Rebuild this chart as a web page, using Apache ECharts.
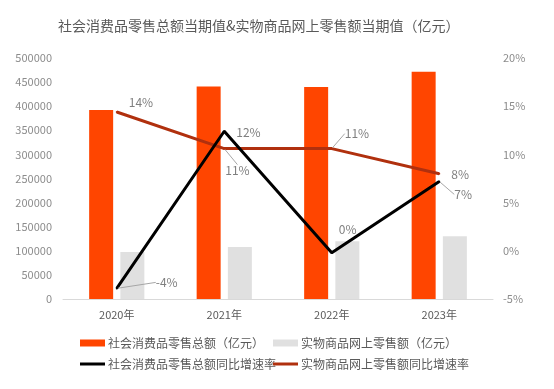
<!DOCTYPE html>
<html>
<head>
<meta charset="utf-8">
<script src="https://cdn.jsdelivr.net/npm/echarts@6/dist/echarts.min.js"></script>
<style>html,body{margin:0;padding:0;background:#fff}#c{width:554px;height:389px}</style>
</head>
<body>
<div id="c"></div>
<script>
const categories = ['2020年', '2021年', '2022年', '2023年'];
const retailTotal = [391981, 440823, 439733, 471495];
const onlineTotal = [97590, 108042, 119642, 130174];
const retailGrowth = [-3.9, 12.4, -0.2, 7.2];
const onlineGrowth = [14.4, 10.6, 10.6, 8.0];
const names = ['社会消费品零售总额（亿元）', '实物商品网上零售额（亿元）', '社会消费品零售总额同比增速率', '实物商品网上零售额同比增速率'];

// label nudges (dx, dy) and whether a leader line is drawn
const retailLabelShift = [[33, -6, true], [6, 1, false], [1, -23, false], [9, 13, true]];
const onlineLabelShift = [[6, -10, false], [-5, 22, true], [7, -15, true], [6, 1, false]];

const font = '"Noto Sans CJK SC", "Noto Sans", sans-serif';
const chart = echarts.init(document.getElementById('c'));

function lineData(vals, shifts) {
  return vals.map((v, i) => ({ value: v, labelLine: { show: shifts[i][2] } }));
}
function legendAt(name, left, top, h) {
  return {
    data: [{ name: name, icon: 'rect' }], left: left, top: top, padding: 0,
    itemWidth: 25, itemHeight: h, itemGap: 0,
    textStyle: { color: '#595959', fontSize: 12, fontFamily: font, padding: [0, 0, 0, -2] }
  };
}

chart.setOption({
  animation: false,
  title: {
    text: '社会消费品零售总额当期值&实物商品网上零售额当期值（亿元）',
    left: 53, top: 14,
    textStyle: { color: '#595959', fontSize: 14, fontWeight: 'normal', fontFamily: font }
  },
  legend: [
    legendAt(names[0], 80, 337, 7),
    legendAt(names[1], 273, 337, 7),
    legendAt(names[2], 80, 358, 3),
    legendAt(names[3], 273, 358, 3)
  ],
  grid: { left: 63, right: 61, top: 58, bottom: 90 },
  xAxis: {
    type: 'category', data: categories,
    axisLine: { lineStyle: { color: '#d9d9d9' } },
    axisTick: { show: false },
    axisLabel: { color: '#595959', fontSize: 11, fontFamily: font, margin: 10 }
  },
  yAxis: [
    {
      type: 'value', min: 0, max: 500000, interval: 50000,
      splitLine: { show: false }, axisLine: { show: false }, axisTick: { show: false },
      axisLabel: { color: '#8c8c8c', fontSize: 11, fontFamily: font, margin: 11, formatter: v => String(v) }
    },
    {
      type: 'value', min: -5, max: 20, interval: 5,
      splitLine: { show: false }, axisLine: { show: false }, axisTick: { show: false },
      axisLabel: { color: '#8c8c8c', fontSize: 11, fontFamily: font, margin: 10, formatter: '{value}%' }
    }
  ],
  series: [
    {
      name: names[0], type: 'bar', data: retailTotal, barWidth: 24, barGap: '30%',
      itemStyle: { color: '#ff4500' }
    },
    {
      name: names[1], type: 'bar', data: onlineTotal, barWidth: 24,
      itemStyle: { color: '#e0e0e0' }
    },
    {
      name: names[2], type: 'line', yAxisIndex: 1, data: lineData(retailGrowth, retailLabelShift),
      symbol: 'circle', symbolSize: 2, z: 5,
      lineStyle: { color: '#000000', width: 3 }, itemStyle: { color: '#000000' },
      label: { show: true, position: 'right', color: '#7f7f7f', fontSize: 12, fontFamily: font,
        formatter: p => Math.round(p.value) + '%' },
      labelLine: { show: true, lineStyle: { color: '#a6a6a6', width: 1 } },
      labelLayout: p => ({ dx: retailLabelShift[p.dataIndex][0], dy: retailLabelShift[p.dataIndex][1] })
    },
    {
      name: names[3], type: 'line', yAxisIndex: 1, data: lineData(onlineGrowth, onlineLabelShift),
      symbol: 'circle', symbolSize: 2, z: 4,
      lineStyle: { color: '#b0300e', width: 3 }, itemStyle: { color: '#b0300e' },
      label: { show: true, position: 'right', color: '#7f7f7f', fontSize: 12, fontFamily: font,
        formatter: p => Math.round(p.value) + '%' },
      labelLine: { show: true, lineStyle: { color: '#a6a6a6', width: 1 } },
      labelLayout: p => ({ dx: onlineLabelShift[p.dataIndex][0], dy: onlineLabelShift[p.dataIndex][1] })
    }
  ]
});
</script>
</body>
</html>
